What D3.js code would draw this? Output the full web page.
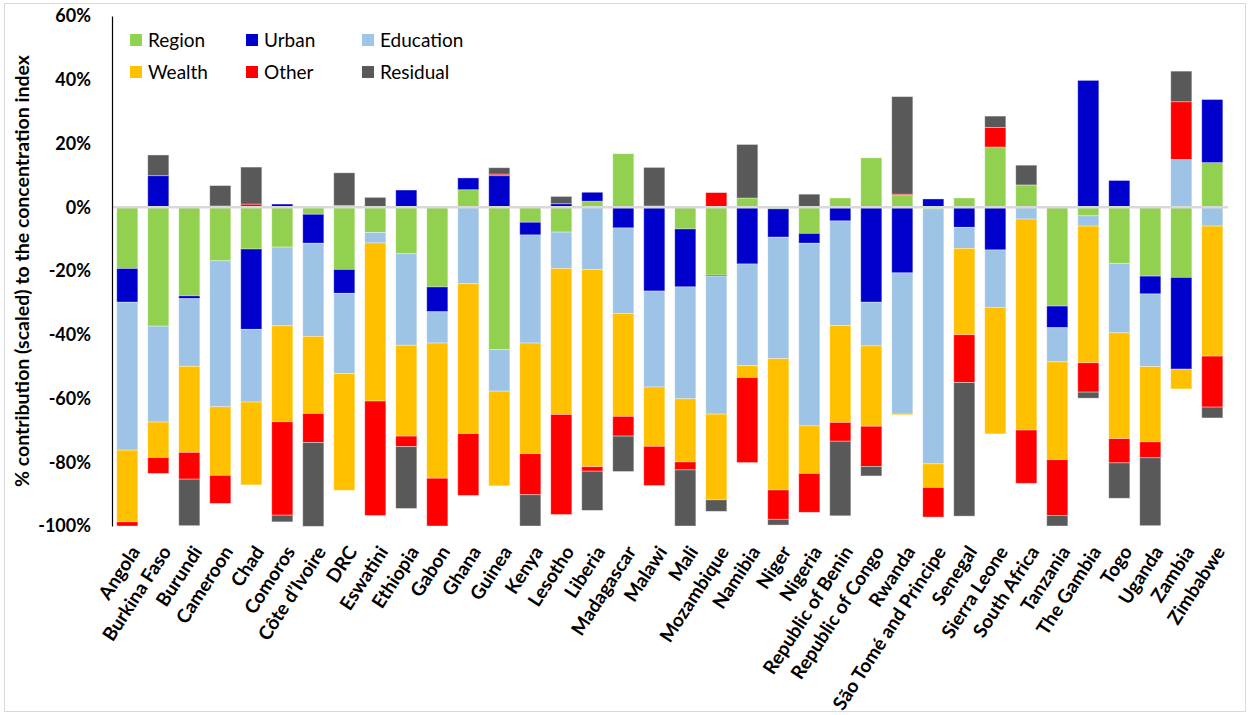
<!DOCTYPE html>
<html>
<head>
<meta charset="utf-8">
<script src="https://cdn.jsdelivr.net/npm/d3@7"></script>
<style>
body { margin: 0; background: #fff; }
text { font-family: Lato, "Open Sans", sans-serif; fill: #000; }
</style>
</head>
<body>
<svg id="chart" width="1250" height="715"></svg>
<script>
var paises = ["Angola", "Burkina Faso", "Burundi", "Cameroon", "Chad", "Comoros", "Côte d’Ivoire", "DRC",
	"Eswatini", "Ethiopia", "Gabon", "Ghana", "Guinea", "Kenya", "Lesotho", "Liberia", "Madagascar",
	"Malawi", "Mali", "Mozambique", "Namibia", "Niger", "Nigeria", "Republic of Benin", "Republic of Congo",
	"Rwanda", "São Tomé and Principe", "Senegal", "Sierra Leone", "South Africa", "Tanzania", "The Gambia",
	"Togo", "Uganda", "Zambia", "Zimbabwe"];

// aporte de cada factor (%), mismo orden que paises
var region    = [-19.2, -37.3, -27.8, -16.8, -13.1, -12.5, -2.2, -19.5, -7.9, -14.6, -25.0, 5.5, -44.6, -4.7, -7.8, 1.9, 16.8, 0.4, -6.8, -21.3, 2.9, -0.5, -8.2, 2.9, 15.5, 3.7, -0.5, 2.9, 18.9, 7.0, -31.0, -2.7, -17.6, -21.6, -22.0, 14.0];
var urban     = [-10.6, 9.9, -0.9, 0.4, -25.2, 1.0, -9.1, -7.5, 0, 5.4, -7.8, 3.7, 9.9, -4.0, 1.1, 2.8, -6.5, -26.3, -18.2, -0.3, -17.8, -8.9, -3.1, -4.3, -29.8, -20.6, 2.6, -6.3, -13.4, 0, -6.8, 39.8, 8.4, -5.6, -28.8, 19.8];
var education = [-46.4, -30.1, -21.2, -45.8, -22.8, -24.7, -29.2, -25.2, -3.3, -28.7, -9.8, -24.0, -13.1, -33.9, -11.4, -19.5, -26.8, -30.1, -35.1, -43.3, -31.9, -38.1, -57.3, -32.8, -13.7, -44.3, -80.0, -6.6, -18.0, -3.7, -10.7, -3.2, -21.8, -22.8, 15.0, -5.9];
var wealth    = [-22.5, -11.1, -27.0, -21.5, -26.0, -30.1, -24.2, -36.6, -49.6, -28.5, -42.4, -47.0, -29.7, -34.7, -45.8, -61.9, -32.3, -18.6, -19.8, -26.9, -3.7, -41.2, -14.9, -30.4, -25.2, -0.3, -7.4, -27.1, -39.7, -66.2, -30.7, -42.9, -33.2, -23.6, -6.2, -40.8];
var other     = [-1.3, -5.0, -8.4, -8.8, 1.0, -29.3, -9.1, 0.6, -35.9, -3.3, -15.0, -19.4, 0.5, -12.9, -31.4, -1.4, -6.2, -12.3, -2.5, 4.6, -26.7, -9.2, -12.2, -5.9, -12.6, 0.4, -9.3, -15.0, 6.1, -16.7, -17.5, -9.2, -7.6, -5.0, 18.1, -16.0];
var residual  = [0, 6.5, -14.6, 6.4, 11.6, -2.1, -26.3, 10.2, 3.1, -19.4, 0, 0, 2.0, -9.8, 2.3, -12.3, -11.1, 12.1, -17.6, -3.6, 16.8, -1.8, 4.1, -23.4, -3.0, 30.6, 0, -41.9, 3.6, 6.2, -3.3, -1.9, -11.1, -21.3, 9.6, -3.4];

var series = ["Region", "Urban", "Education", "Wealth", "Other", "Residual"];
var colores = ["#92d050", "#0000cc", "#9dc3e6", "#ffc000", "#ff0000", "#595959"];
var yTicks = [60, 40, 20, 0, -20, -40, -60, -80, -100];

function chart(){
	var svg = d3.select("#chart");

	var valores = [region, urban, education, wealth, other, residual];
	var filas = paises.map(function(p, i) {
		var fila = { pais: p };
		series.forEach(function(s, j) { fila[s] = valores[j][i]; });
		return fila;
	});

	var stack = d3.stack()
	.keys(series)
	.offset(d3.stackOffsetDiverging)(filas);

	var x = d3.scaleBand()
	.domain(paises)
	.range([111.8, 1227.8])
	.paddingInner(0.32)
	.paddingOuter(0.16);

	var y = d3.scaleLinear()
	.domain([-100, 60])
	.range([526, 16]);

	var color = d3.scaleOrdinal().domain(series).range(colores);

	// marco del grafico
	svg.append("rect")
	.attr("x", 4.5).attr("y", 3.5)
	.attr("width", 1241).attr("height", 708)
	.attr("fill", "none")
	.attr("stroke", "#d9d9d9");

	svg.append("g")
	.selectAll("g")
	.data(stack)
	.join("g")
	.attr("fill", function(d) { return color(d.key); })
	.selectAll("rect")
	.data(function(d) { return d; })
	.join("rect")
	.attr("x", function(d) { return x(d.data.pais); })
	.attr("y", function(d) { return y(d[1]); })
	.attr("width", x.bandwidth())
	.attr("height", function(d) { return y(d[0]) - y(d[1]); })
	.attr("stroke", "#fff")
	.attr("stroke-opacity", 0.45)
	.attr("stroke-width", 0.8);

	// linea del cero
	svg.append("line")
	.attr("x1", 112).attr("x2", 1228)
	.attr("y1", y(0)).attr("y2", y(0))
	.attr("stroke", "#d9d9d9")
	.attr("stroke-width", 2.5);

	var ejeY = svg.append("g")
	.attr("transform", "translate(112,0)")
	.call(d3.axisLeft(y).tickValues(yTicks).tickSize(0).tickPadding(21)
		.tickFormat(function(d) { return d + "%"; }));
	ejeY.select(".domain").attr("stroke", "#000").attr("stroke-width", 1.2);
	ejeY.selectAll("text")
	.style("font-family", "Lato, sans-serif")
	.style("font-size", "18px")
	.style("font-weight", "bold");

	var ejeX = svg.append("g")
	.attr("transform", "translate(0,548)")
	.call(d3.axisBottom(x).tickSize(0));
	ejeX.select(".domain").remove();
	ejeX.selectAll("text")
	.attr("x", 0).attr("y", 0).attr("dy", "0.35em")
	.attr("transform", "translate(8,0) rotate(-57)")
	.style("text-anchor", "end")
	.style("font-family", "Lato, sans-serif")
	.style("font-size", "19px")
	.style("font-weight", "bold");

	svg.append("text")
	.attr("transform", "translate(22," + ((y(60) + y(-100)) / 2) + ") rotate(-90)")
	.attr("text-anchor", "middle")
	.attr("dy", "0.35em")
	.style("font-size", "19.5px")
	.style("font-weight", "bold")
	.text("% contribution (scaled) to the concentration index");

	// leyenda, 2 filas x 3 columnas
	var leyenda = svg.append("g")
	.selectAll("g")
	.data(series)
	.join("g")
	.attr("transform", function(d, i) {
		return "translate(" + (130 + (i % 3) * 116) + "," + (40 + Math.floor(i / 3) * 32) + ")";
	});
	leyenda.append("rect")
	.attr("x", 0).attr("y", -6)
	.attr("width", 12).attr("height", 12)
	.attr("fill", function(d) { return color(d); });
	leyenda.append("text")
	.attr("x", 18).attr("dy", "0.35em")
	.style("font-size", "19px")
	.text(function(d) { return d; });
}

chart();
</script>
</body>
</html>
